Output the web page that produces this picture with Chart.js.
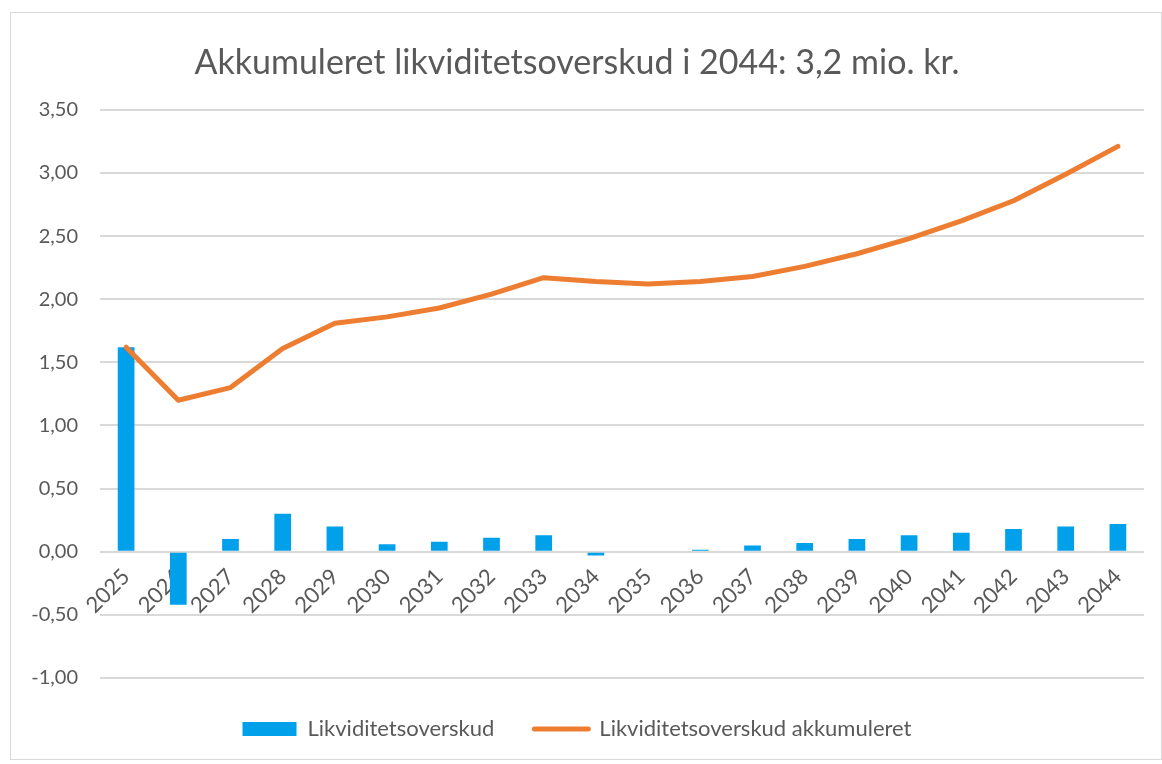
<!DOCTYPE html>
<html>
<head>
<meta charset="utf-8">
<script src="https://cdn.jsdelivr.net/npm/chart.js@4/dist/chart.umd.min.js"></script>
<style>
  html, body { margin: 0; padding: 0; background: #fff; }
  #wrap { position: relative; width: 1162px; height: 764px; }
  #frame { position: absolute; left: 10px; top: 12px; width: 1152px; height: 748px;
           border: 1.5px solid #d9d9d9; box-sizing: border-box; pointer-events: none; }
</style>
</head>
<body>
<div id="wrap">
  <canvas id="chart"></canvas>
  <div id="frame"></div>
</div>
<script>
const years = ['2025','2026','2027','2028','2029','2030','2031','2032','2033','2034',
               '2035','2036','2037','2038','2039','2040','2041','2042','2043','2044'];
const overskud = [1.62, -0.42, 0.10, 0.30, 0.20, 0.06, 0.08, 0.11, 0.13, -0.03,
                  0.00, 0.015, 0.05, 0.07, 0.10, 0.13, 0.15, 0.18, 0.20, 0.22];
const akkumuleret = [1.62, 1.20, 1.30, 1.61, 1.81, 1.86, 1.93, 2.04, 2.17, 2.14,
                     2.12, 2.14, 2.18, 2.26, 2.36, 2.48, 2.62, 2.78, 2.99, 3.21];
const seriesNames = ['Likviditetsoverskud', 'Likviditetsoverskud akkumuleret'];
const yMin = -1, yMax = 3.5, yStep = 0.5;

const grey = '#595959';
const font = 'Lato, "Open Sans", sans-serif';

new Chart(document.getElementById('chart').getContext('2d'), {
  type: 'bar',
  data: {
    labels: years,
    datasets: [{
      type: 'bar',
      label: seriesNames[0],
      data: overskud,
      backgroundColor: '#00A0EA',
      categoryPercentage: 1,
      barPercentage: 0.32,
      order: 1
    }, {
      type: 'line',
      label: seriesNames[1],
      data: akkumuleret,
      borderColor: '#ED7D31',
      backgroundColor: '#ED7D31',
      borderWidth: 5,
      borderCapStyle: 'round',
      borderJoinStyle: 'round',
      pointRadius: 0,
      tension: 0,
      order: 0   // line on top of bars
    }]
  },
  options: {
    responsive: true,
    maintainAspectRatio: false,
    animation: false,
    layout: { padding: { left: 10, right: 18, top: 0, bottom: 14 } },
    plugins: {
      tooltip: { enabled: false },
      title: {
        display: true,
        text: 'Akkumuleret likviditetsoverskud i 2044: 3,2 mio. kr.',
        color: grey,
        font: { family: font, size: 34, weight: 'normal' },
        padding: { top: 43, bottom: 26 }
      },
      legend: {
        position: 'bottom',
        labels: {
          color: grey,
          font: { family: font, size: 22 },
          usePointStyle: true,
          pointStyleWidth: 54,
          boxHeight: 14,
          padding: 40,
          generateLabels: function(chart) {
            const items = Chart.defaults.plugins.legend.labels.generateLabels(chart);
            items.forEach(function(it) {
              if (it.datasetIndex === 0) { it.pointStyle = 'rect'; it.lineWidth = 0; }
              else { it.pointStyle = 'line'; it.lineWidth = 5; it.lineCap = 'round'; }
            });
            // bars first, like the original legend
            items.sort(function(a, b) { return a.datasetIndex - b.datasetIndex; });
            return items;
          }
        }
      }
    },
    scales: {
      x: {
        position: { y: 0 },
        grid: { display: false },
        border: { display: false },
        ticks: {
          color: grey,
          font: { family: font, size: 22 },
          minRotation: 45,
          maxRotation: 45,
          autoSkip: false,
          padding: 4
        }
      },
      y: {
        min: yMin,
        max: yMax,
        afterFit: function(scale) { scale.width = 90; },
        grid: { color: '#d9d9d9', lineWidth: 2, drawTicks: false },
        border: { display: false },
        ticks: {
          stepSize: yStep,
          color: grey,
          padding: 22,
          font: { family: font, size: 20 },
          callback: function(v) { return v.toFixed(2).replace('.', ','); }
        }
      }
    }
  }
});
</script>
</body>
</html>
